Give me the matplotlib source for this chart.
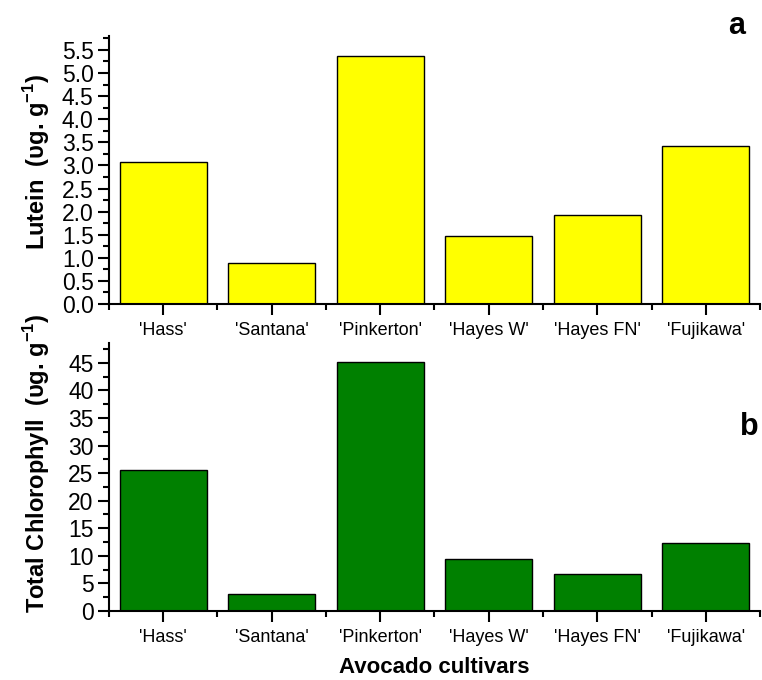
import matplotlib
matplotlib.use("Agg")
import matplotlib.pyplot as plt
from matplotlib.ticker import MultipleLocator, FixedLocator

plt.rcParams['font.family'] = ['Liberation Sans', 'DejaVu Sans']
plt.rcParams['mathtext.fontset'] = 'custom'
plt.rcParams['mathtext.rm'] = 'Liberation Sans'
plt.rcParams['mathtext.bf'] = 'Liberation Sans:bold'

cultivars = ["'Hass'", "'Santana'", "'Pinkerton'", "'Hayes W'", "'Hayes FN'", "'Fujikawa'"]
lutein = [3.08, 0.88, 5.37, 1.47, 1.93, 3.43]
chlorophyll = [25.5, 3.1, 45.2, 9.4, 6.7, 12.4]

fig = plt.figure(figsize=(7.62, 6.8), dpi=100)
ax_a = fig.add_axes([0.143, 0.5529, 0.8544, 0.3941])
ax_b = fig.add_axes([0.143, 0.1015, 0.8544, 0.3941])

x = list(range(len(cultivars)))

def style(ax, values, color, ylim, major, minor, fmt, label, label_y):
    ax.bar(x, values, width=0.8, color=color, edgecolor='black', linewidth=1.0)
    ax.set_xlim(-0.5, len(cultivars) - 0.5)
    ax.set_ylim(0, ylim)
    ax.spines['top'].set_visible(False)
    ax.spines['right'].set_visible(False)
    for s in ('left', 'bottom'):
        ax.spines[s].set_linewidth(1.5)
    ax.set_xticks(x)
    ax.set_xticklabels(cultivars, fontsize=13)
    ax.xaxis.set_minor_locator(FixedLocator([i + 0.5 for i in range(-1, len(cultivars))]))
    ax.yaxis.set_major_locator(MultipleLocator(major))
    ax.yaxis.set_minor_locator(MultipleLocator(minor))
    ax.yaxis.set_major_formatter(fmt)
    ax.tick_params(axis='y', which='major', direction='out', length=8, width=1.5,
                   labelsize=16.5, pad=3)
    ax.tick_params(axis='x', which='major', direction='out', length=8, width=1.5,
                   labelsize=13, pad=5)
    ax.tick_params(axis='both', which='minor', direction='out', length=4, width=1.5)
    ax.set_ylabel(label, fontsize=17, fontweight='bold')
    ax.yaxis.set_label_coords(-0.088, label_y)

style(ax_a, lutein, '#FFFF00', 5.8, 0.5, 0.25, '{x:.1f}',
      r'Lutein  (υg. g$^{\mathbf{-1}}$)', 0.53)
style(ax_b, chlorophyll, '#008000', 48.6, 5, 2.5, '{x:.0f}',
      r'Total Chlorophyll  (υg. g$^{\mathbf{-1}}$)', 0.552)

ax_b.set_xlabel('Avocado cultivars', fontsize=16, fontweight='bold', labelpad=8)

fig.text(0.967, 0.962, 'a', fontsize=22, fontweight='bold', ha='center', va='center')
fig.text(0.984, 0.372, 'b', fontsize=22, fontweight='bold', ha='center', va='center')

fig.savefig('out.png', dpi=100)
